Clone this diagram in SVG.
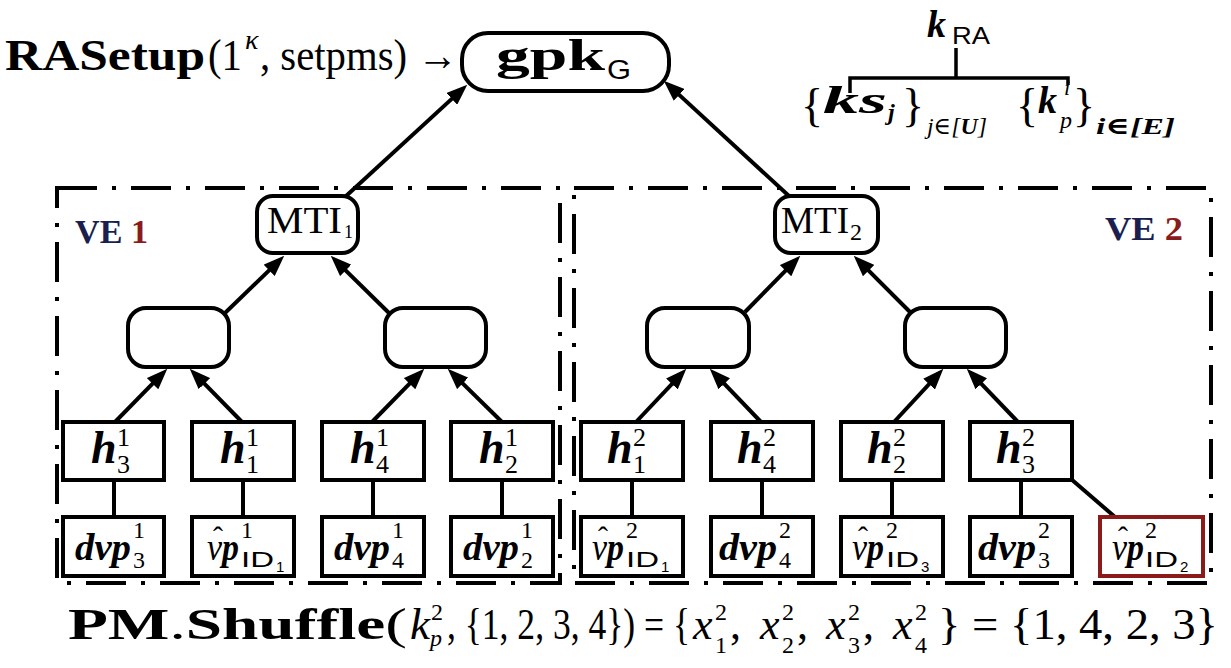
<svg xmlns="http://www.w3.org/2000/svg" width="1231" height="668" viewBox="0 0 1231 668">
  <style>
    .box { fill: #fff; stroke: #000; stroke-width: 4; }
    .rbox { fill: #fff; stroke: #8b1a1a; stroke-width: 4; }
    .ve { fill: none; stroke: #000; stroke-width: 4; stroke-dasharray: 40 15 4 15; }
    .conn line, .conn path { stroke: #000; stroke-width: 4; fill: none; }
    .arr { marker-end: url(#head); }
    text { fill: #000; }
    .sr { font-family: "Liberation Serif", "DejaVu Serif", serif; }
    .bi { font-family: "Liberation Serif", "DejaVu Serif", serif; font-weight: bold; font-style: italic; }
    .it { font-family: "Liberation Serif", "DejaVu Serif", serif; font-style: italic; }
    .bd { font-family: "Liberation Serif", "DejaVu Serif", serif; font-weight: bold; }
    .ss { font-family: "Liberation Sans", Arial, sans-serif; }
    .navy { fill: #1b1f4f; }
    .dred { fill: #8b1a1a; }
  </style>
  <defs>
    <marker id="head" markerUnits="userSpaceOnUse" markerWidth="21" markerHeight="16" refX="14" refY="8" orient="auto">
      <path d="M0,0 L21,8 L0,16 z" fill="#000"/>
    </marker>
  </defs>
  <rect width="1231" height="668" fill="#fff"/>

  <!-- setup line and group key -->
  <g id="ra-setup">
    <text class="bd" x="5" y="70" font-size="44" textLength="200" lengthAdjust="spacingAndGlyphs">RASetup</text>
    <text class="sr" x="208" y="70" font-size="44" textLength="34" lengthAdjust="spacingAndGlyphs">(1</text>
    <text class="it" x="245" y="49" font-size="28">κ</text>
    <text class="sr" x="260" y="70" font-size="44" textLength="198" lengthAdjust="spacingAndGlyphs">, setpms) →</text>
  </g>
  <g id="gpk">
    <rect class="box" x="462" y="33" width="207" height="58" rx="26"/>
    <text class="bd" x="496" y="70" font-size="44" textLength="109" lengthAdjust="spacingAndGlyphs">gpk</text>
    <text class="ss" x="607" y="79" font-size="27" textLength="24" lengthAdjust="spacingAndGlyphs">G</text>
  </g>

  <!-- key hierarchy -->
  <g id="k-ra">
    <text class="bi" x="927" y="37" font-size="38">k</text>
    <text class="ss" x="952" y="44" font-size="24" textLength="38" lengthAdjust="spacingAndGlyphs">RA</text>
    <path d="M956,48 V78 M850,93 V78 H1068 V85" fill="none" stroke="#000" stroke-width="3.5"/>
  </g>
  <g id="ks-set">
    <text class="sr" x="801" y="121" font-size="46">{</text>
    <text class="bi" x="823" y="113" font-size="38" textLength="64" lengthAdjust="spacingAndGlyphs">ks</text>
    <text class="bi" x="888" y="120" font-size="24">j</text>
    <text class="sr" x="902" y="121" font-size="46">}</text>
    <text class="it" x="927" y="134" font-size="24" textLength="60" lengthAdjust="spacingAndGlyphs">j∈[<tspan class="bi">U</tspan>]</text>
  </g>
  <g id="kp-set">
    <text class="sr" x="1016" y="121" font-size="46">{</text>
    <text class="bi" x="1038" y="113" font-size="38">k</text>
    <text class="it" x="1064" y="95" font-size="22">i</text>
    <text class="it" x="1060" y="128" font-size="24">p</text>
    <text class="sr" x="1073" y="121" font-size="46">}</text>
    <text class="bi" x="1096" y="134" font-size="24" textLength="79" lengthAdjust="spacingAndGlyphs">i∈[E]</text>
  </g>

  <!-- VE regions -->
  <g id="ve1">
    <rect class="ve" x="57" y="188" width="503" height="395"/>
    <text class="bd" x="75" y="243" font-size="33" textLength="73" lengthAdjust="spacingAndGlyphs"><tspan class="navy">VE </tspan><tspan class="dred">1</tspan></text>
  </g>
  <g id="ve2">
    <rect class="ve" x="574" y="188" width="637" height="395"/>
    <text class="bd" x="1105" y="240" font-size="33" textLength="78" lengthAdjust="spacingAndGlyphs"><tspan class="navy">VE </tspan><tspan class="dred">2</tspan></text>
  </g>

  <!-- connectors -->
  <g id="connectors" class="conn">
    <line class="arr" x1="115" y1="422" x2="162.4" y2="373.7"/>
    <line class="arr" x1="242" y1="422" x2="194.6" y2="373.7"/>
    <line class="arr" x1="372" y1="422" x2="419.4" y2="373.7"/>
    <line class="arr" x1="502" y1="422" x2="452.7" y2="373.6"/>
    <line class="arr" x1="225" y1="313" x2="279.2" y2="260.6"/>
    <line class="arr" x1="389" y1="313" x2="335.7" y2="260.6"/>
    <line class="arr" x1="345" y1="197" x2="462.1" y2="89.4"/>
    <line class="arr" x1="636" y1="422" x2="681.5" y2="373.8"/>
    <line class="arr" x1="761" y1="422" x2="714.6" y2="373.7"/>
    <line class="arr" x1="894" y1="422" x2="938.6" y2="373.9"/>
    <line class="arr" x1="1018" y1="422" x2="971.6" y2="373.7"/>
    <line class="arr" x1="745" y1="312" x2="795.4" y2="260.7"/>
    <line class="arr" x1="910" y1="312" x2="858.7" y2="260.7"/>
    <line class="arr" x1="789" y1="196" x2="668.9" y2="85.4"/>
    <line x1="114" y1="480" x2="114" y2="517"/>
    <line x1="243" y1="480" x2="243" y2="517"/>
    <line x1="373" y1="480" x2="373" y2="517"/>
    <line x1="502" y1="480" x2="502" y2="517"/>
    <line x1="632" y1="480" x2="632" y2="517"/>
    <line x1="762" y1="480" x2="762" y2="517"/>
    <line x1="892" y1="480" x2="892" y2="517"/>
    <line x1="1021" y1="480" x2="1021" y2="517"/>
    <line x1="1071" y1="479" x2="1115" y2="517"/>
  </g>

  <!-- index trees -->
  <g id="mti1" transform="translate(257,196)">
    <rect class="box" width="101" height="57" rx="16"/>
    <text class="sr" x="10" y="37" font-size="37" textLength="75" lengthAdjust="spacingAndGlyphs">MTI</text>
    <text class="sr" x="87" y="42" font-size="18">1</text>
  </g>
  <g id="mti2" transform="translate(775,196)">
    <rect class="box" width="103" height="57" rx="16"/>
    <text class="sr" x="6" y="37" font-size="37" textLength="68" lengthAdjust="spacingAndGlyphs">MTI</text>
    <text class="sr" x="75" y="44" font-size="24">2</text>
  </g>
  <g id="n1a"><rect class="box" x="128" y="308" width="101" height="59" rx="18"/></g>
  <g id="n1b"><rect class="box" x="385" y="308" width="101" height="59" rx="18"/></g>
  <g id="n2a"><rect class="box" x="647" y="308" width="102" height="59" rx="18"/></g>
  <g id="n2b"><rect class="box" x="905" y="308" width="101" height="59" rx="18"/></g>

  <!-- hash leaves -->
  <g id="h1-3" transform="translate(63,422)">
    <rect class="box" width="101" height="58"/>
    <text class="bi" x="28" y="41" font-size="46">h</text>
    <text class="sr" x="54" y="24" font-size="26">1</text>
    <text class="sr" x="54" y="51" font-size="26">3</text>
  </g>
  <g id="h1-1" transform="translate(192,422)">
    <rect class="box" width="102" height="58"/>
    <text class="bi" x="28" y="41" font-size="46">h</text>
    <text class="sr" x="54" y="24" font-size="26">1</text>
    <text class="sr" x="54" y="51" font-size="26">1</text>
  </g>
  <g id="h1-4" transform="translate(322,422)">
    <rect class="box" width="102" height="58"/>
    <text class="bi" x="28" y="41" font-size="46">h</text>
    <text class="sr" x="54" y="24" font-size="26">1</text>
    <text class="sr" x="54" y="51" font-size="26">4</text>
  </g>
  <g id="h1-2" transform="translate(451,422)">
    <rect class="box" width="102" height="58"/>
    <text class="bi" x="28" y="41" font-size="46">h</text>
    <text class="sr" x="54" y="24" font-size="26">1</text>
    <text class="sr" x="54" y="51" font-size="26">2</text>
  </g>
  <g id="h2-1" transform="translate(581,422)">
    <rect class="box" width="102" height="58"/>
    <text class="bi" x="26" y="41" font-size="46">h</text>
    <text class="sr" x="52" y="24" font-size="26">2</text>
    <text class="sr" x="52" y="51" font-size="26">1</text>
  </g>
  <g id="h2-4" transform="translate(711,422)">
    <rect class="box" width="102" height="58"/>
    <text class="bi" x="26" y="41" font-size="46">h</text>
    <text class="sr" x="52" y="24" font-size="26">2</text>
    <text class="sr" x="52" y="51" font-size="26">4</text>
  </g>
  <g id="h2-2" transform="translate(841,422)">
    <rect class="box" width="102" height="58"/>
    <text class="bi" x="26" y="41" font-size="46">h</text>
    <text class="sr" x="52" y="24" font-size="26">2</text>
    <text class="sr" x="52" y="51" font-size="26">2</text>
  </g>
  <g id="h2-3" transform="translate(970,422)">
    <rect class="box" width="102" height="58"/>
    <text class="bi" x="26" y="41" font-size="46">h</text>
    <text class="sr" x="52" y="24" font-size="26">2</text>
    <text class="sr" x="52" y="51" font-size="26">3</text>
  </g>

  <!-- data leaves -->
  <g id="dvp1-3" transform="translate(63,517)">
    <rect class="box" width="101" height="59"/>
    <text class="bi" x="12" y="43" font-size="38" textLength="56" lengthAdjust="spacingAndGlyphs">dvp</text>
    <text class="sr" x="70" y="21" font-size="24">1</text>
    <text class="sr" x="70" y="51" font-size="24">3</text>
  </g>
  <g id="vp1-id1" transform="translate(192,517)">
    <rect class="box" width="102" height="59"/>
    <text class="bi" x="15" y="43" font-size="38" textLength="32" lengthAdjust="spacingAndGlyphs"><tspan font-weight="normal">v</tspan>p</text>
    <text class="sr" x="26" y="30" font-size="30" text-anchor="middle">ˆ</text>
    <text class="sr" x="49" y="21" font-size="24">1</text>
    <text class="ss" x="49" y="50" font-size="22" textLength="33" lengthAdjust="spacingAndGlyphs">ID</text>
    <text class="ss" x="84" y="55" font-size="15">1</text>
  </g>
  <g id="dvp1-4" transform="translate(322,517)">
    <rect class="box" width="102" height="59"/>
    <text class="bi" x="12" y="43" font-size="38" textLength="56" lengthAdjust="spacingAndGlyphs">dvp</text>
    <text class="sr" x="70" y="21" font-size="24">1</text>
    <text class="sr" x="70" y="51" font-size="24">4</text>
  </g>
  <g id="dvp1-2" transform="translate(451,517)">
    <rect class="box" width="102" height="59"/>
    <text class="bi" x="12" y="43" font-size="38" textLength="56" lengthAdjust="spacingAndGlyphs">dvp</text>
    <text class="sr" x="70" y="21" font-size="24">1</text>
    <text class="sr" x="70" y="51" font-size="24">2</text>
  </g>
  <g id="vp2-id1" transform="translate(581,517)">
    <rect class="box" width="102" height="59"/>
    <text class="bi" x="11" y="43" font-size="38" textLength="32" lengthAdjust="spacingAndGlyphs"><tspan font-weight="normal">v</tspan>p</text>
    <text class="sr" x="22" y="30" font-size="30" text-anchor="middle">ˆ</text>
    <text class="sr" x="45" y="21" font-size="24">2</text>
    <text class="ss" x="45" y="50" font-size="22" textLength="33" lengthAdjust="spacingAndGlyphs">ID</text>
    <text class="ss" x="80" y="55" font-size="15">1</text>
  </g>
  <g id="dvp2-4" transform="translate(711,517)">
    <rect class="box" width="102" height="59"/>
    <text class="bi" x="8" y="43" font-size="38" textLength="58" lengthAdjust="spacingAndGlyphs">dvp</text>
    <text class="sr" x="68" y="21" font-size="24">2</text>
    <text class="sr" x="68" y="51" font-size="24">4</text>
  </g>
  <g id="vp2-id3" transform="translate(841,517)">
    <rect class="box" width="102" height="59"/>
    <text class="bi" x="11" y="43" font-size="38" textLength="32" lengthAdjust="spacingAndGlyphs"><tspan font-weight="normal">v</tspan>p</text>
    <text class="sr" x="22" y="30" font-size="30" text-anchor="middle">ˆ</text>
    <text class="sr" x="45" y="21" font-size="24">2</text>
    <text class="ss" x="45" y="50" font-size="22" textLength="33" lengthAdjust="spacingAndGlyphs">ID</text>
    <text class="ss" x="80" y="55" font-size="15">3</text>
  </g>
  <g id="dvp2-3" transform="translate(970,517)">
    <rect class="box" width="102" height="59"/>
    <text class="bi" x="8" y="43" font-size="38" textLength="58" lengthAdjust="spacingAndGlyphs">dvp</text>
    <text class="sr" x="68" y="21" font-size="24">2</text>
    <text class="sr" x="68" y="51" font-size="24">3</text>
  </g>
  <g id="vp2-id2" transform="translate(1100,517)">
    <rect class="rbox" width="103" height="59"/>
    <text class="bi" x="12" y="43" font-size="38" textLength="32" lengthAdjust="spacingAndGlyphs"><tspan font-weight="normal">v</tspan>p</text>
    <text class="sr" x="23" y="30" font-size="30" text-anchor="middle">ˆ</text>
    <text class="sr" x="45" y="21" font-size="24">2</text>
    <text class="ss" x="45" y="50" font-size="22" textLength="33" lengthAdjust="spacingAndGlyphs">ID</text>
    <text class="ss" x="80" y="55" font-size="15">2</text>
  </g>

  <!-- shuffle equation -->
  <g id="shuffle">
    <text class="sr" x="68" y="639" font-size="44" textLength="339" lengthAdjust="spacingAndGlyphs"><tspan class="bd">PM</tspan>.<tspan class="bd">Shuffle</tspan>(</text>
    <text class="it" x="410" y="639" font-size="44" textLength="20" lengthAdjust="spacingAndGlyphs">k</text>
    <text class="sr" x="431" y="620" font-size="24">2</text>
    <text class="it" x="430" y="646" font-size="24">p</text>
    <text class="sr" x="447" y="639" font-size="44" textLength="243" lengthAdjust="spacingAndGlyphs">, {1, 2, 3, 4}) = {</text>
    <text class="it" x="693" y="639" font-size="44">x</text>
    <text class="sr" x="715" y="620" font-size="24">2</text>
    <text class="sr" x="715" y="653" font-size="24">1</text>
    <text class="sr" x="730" y="639" font-size="44">,</text>
    <text class="it" x="760" y="639" font-size="44">x</text>
    <text class="sr" x="782" y="620" font-size="24">2</text>
    <text class="sr" x="782" y="653" font-size="24">2</text>
    <text class="sr" x="797" y="639" font-size="44">,</text>
    <text class="it" x="826" y="639" font-size="44">x</text>
    <text class="sr" x="848" y="620" font-size="24">2</text>
    <text class="sr" x="848" y="653" font-size="24">3</text>
    <text class="sr" x="863" y="639" font-size="44">,</text>
    <text class="it" x="893" y="639" font-size="44">x</text>
    <text class="sr" x="915" y="620" font-size="24">2</text>
    <text class="sr" x="915" y="653" font-size="24">4</text>
    <text class="sr" x="938" y="639" font-size="44" textLength="280" lengthAdjust="spacingAndGlyphs">} = {1, 4, 2, 3}</text>
  </g>
</svg>
